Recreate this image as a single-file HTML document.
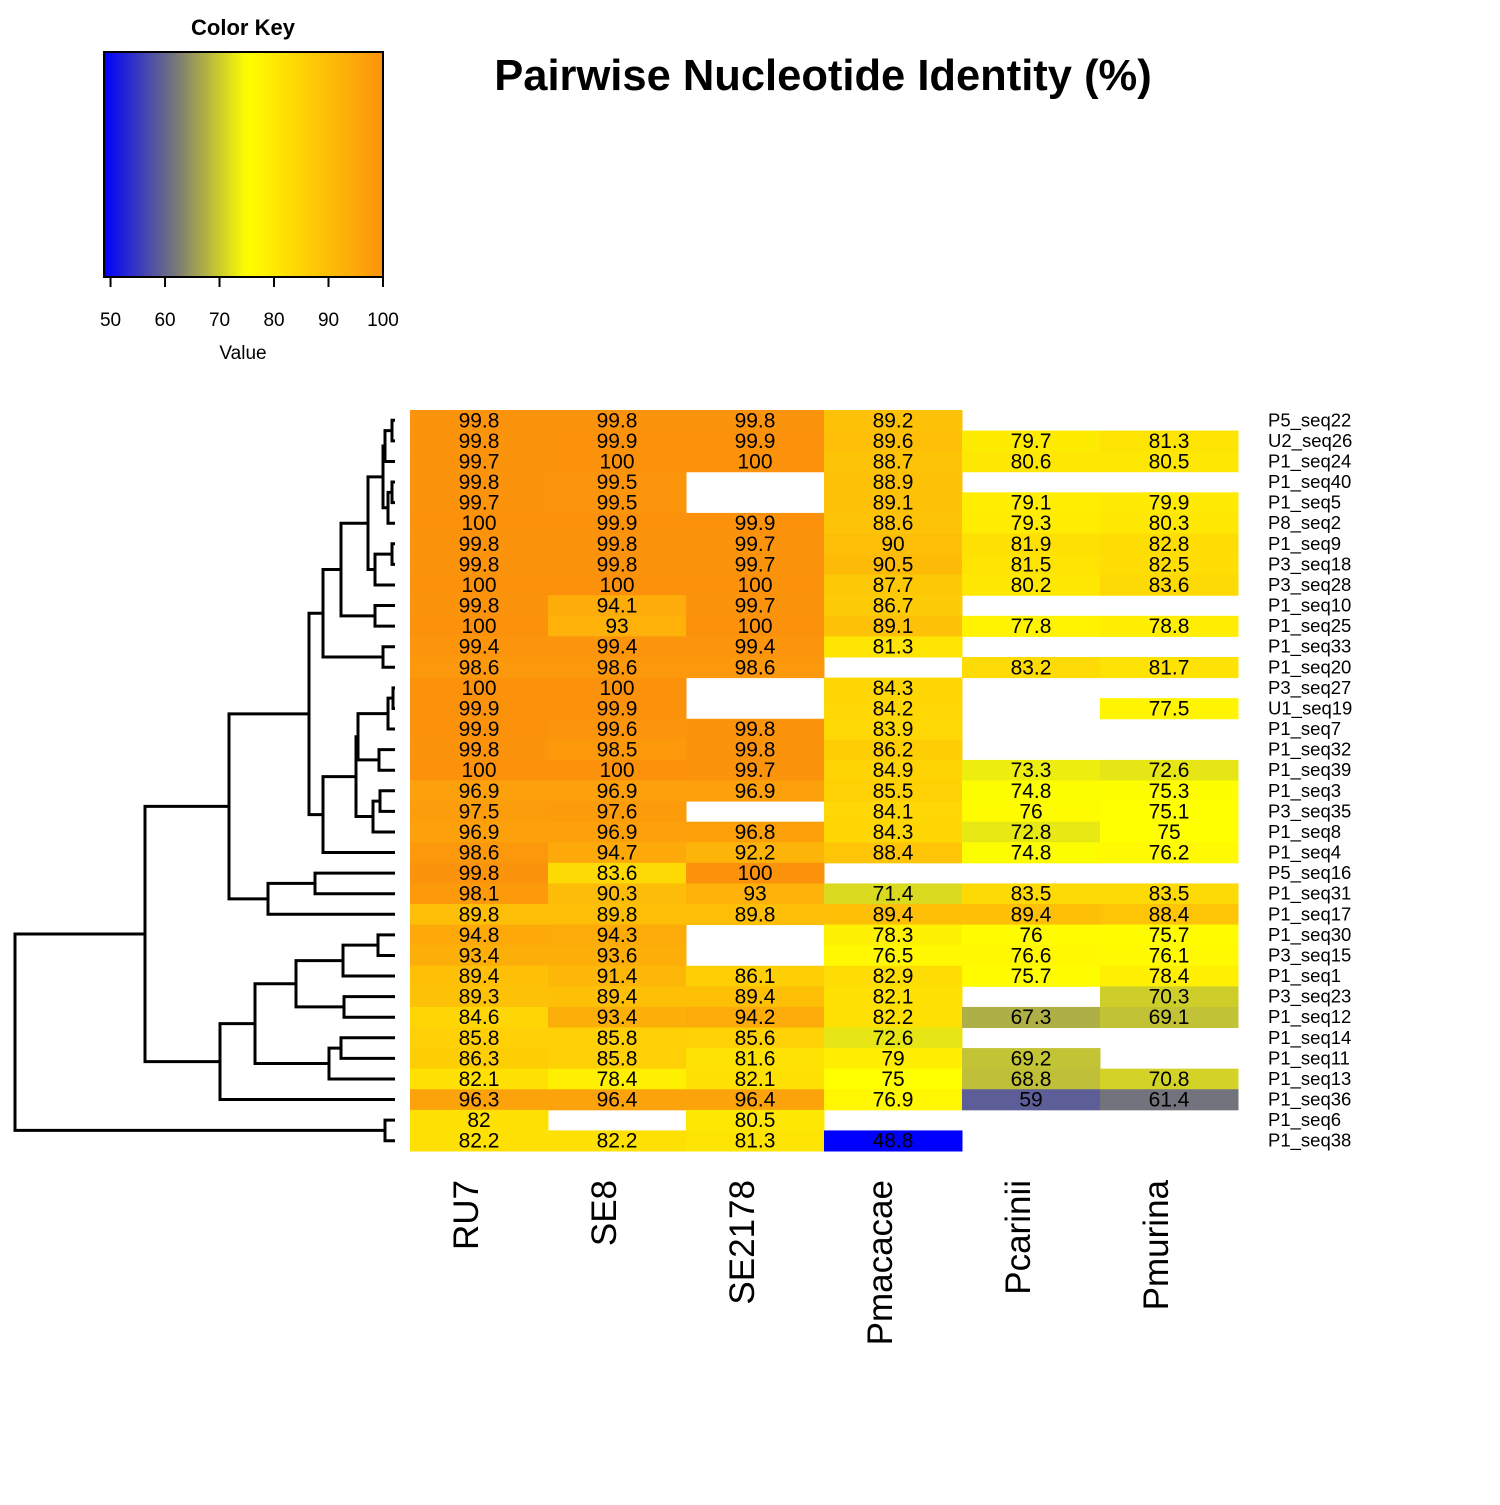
<!DOCTYPE html>
<html><head><meta charset="utf-8"><style>
body{margin:0;background:#fff;}
svg text{font-family:"Liberation Sans",sans-serif;}
</style></head><body>
<svg id="chart" width="1500" height="1500" xmlns="http://www.w3.org/2000/svg"></svg>
<script>
const rowLabels=["P5_seq22","U2_seq26","P1_seq24","P1_seq40","P1_seq5","P8_seq2","P1_seq9","P3_seq18","P3_seq28","P1_seq10","P1_seq25","P1_seq33","P1_seq20","P3_seq27","U1_seq19","P1_seq7","P1_seq32","P1_seq39","P1_seq3","P3_seq35","P1_seq8","P1_seq4","P5_seq16","P1_seq31","P1_seq17","P1_seq30","P3_seq15","P1_seq1","P3_seq23","P1_seq12","P1_seq14","P1_seq11","P1_seq13","P1_seq36","P1_seq6","P1_seq38"];
const colLabels=["RU7","SE8","SE2178","Pmacacae","Pcarinii","Pmurina"];
const colRU7=[99.8,99.8,99.7,99.8,99.7,100,99.8,99.8,100,99.8,100,99.4,98.6,100,99.9,99.9,99.8,100,96.9,97.5,96.9,98.6,99.8,98.1,89.8,94.8,93.4,89.4,89.3,84.6,85.8,86.3,82.1,96.3,82,82.2];
const colSE8=[99.8,99.9,100,99.5,99.5,99.9,99.8,99.8,100,94.1,93,99.4,98.6,100,99.9,99.6,98.5,100,96.9,97.6,96.9,94.7,83.6,90.3,89.8,94.3,93.6,91.4,89.4,93.4,85.8,85.8,78.4,96.4,null,82.2];
const colSE2178=[99.8,99.9,100,null,null,99.9,99.7,99.7,100,99.7,100,99.4,98.6,null,null,99.8,99.8,99.7,96.9,null,96.8,92.2,100,93,89.8,null,null,86.1,89.4,94.2,85.6,81.6,82.1,96.4,80.5,81.3];
const colPmac=[89.2,89.6,88.7,88.9,89.1,88.6,90,90.5,87.7,86.7,89.1,81.3,null,84.3,84.2,83.9,86.2,84.9,85.5,84.1,84.3,88.4,null,71.4,89.4,78.3,76.5,82.9,82.1,82.2,72.6,79,75,76.9,null,48.8];
const colPcar=[null,79.7,80.6,null,79.1,79.3,81.9,81.5,80.2,null,77.8,null,83.2,null,null,null,null,73.3,74.8,76,72.8,74.8,null,83.5,89.4,76,76.6,75.7,null,67.3,null,69.2,68.8,59,null,null];
const colPmur=[null,81.3,80.5,null,79.9,80.3,82.8,82.5,83.6,null,78.8,null,81.7,null,77.5,null,null,72.6,75.3,75.1,75,76.2,null,83.5,88.4,75.7,76.1,78.4,70.3,69.1,null,null,70.8,61.4,null,null];
const columns=[colRU7,colSE8,colSE2178,colPmac,colPcar,colPmur];
const keyTicks=[50,60,70,80,90,100];

const NS="http://www.w3.org/2000/svg";
const svg=document.getElementById('chart');
function mk(tag,attrs,parent){
  const e=document.createElementNS(NS,tag);
  for(const k in attrs){e.setAttribute(k,String(attrs[k]));}
  (parent||svg).appendChild(e);
  return e;
}
const vmin=48.8,vmax=100;
const X0=410,X1=1238,Y0=410,Y1=1151;
const cw=(X1-X0)/colLabels.length, rh=(Y1-Y0)/rowLabels.length;
function xCol(j){return X0+j*cw;}
function yRow(i){return Y0+i*rh;}
const stops=[[48.8,[0,0,255]],[62,[120,120,120]],[75,[255,255,0]],[100,[252,146,12]]];
function color(v){
  for(let k=0;k<stops.length-1;k++){
    const a=stops[k],b=stops[k+1];
    if(v<=b[0]||k===stops.length-2){
      let t=(v-a[0])/(b[0]-a[0]);
      t=Math.max(0,Math.min(1,t));
      const c=[0,1,2].map(i=>Math.round(a[1][i]+(b[1][i]-a[1][i])*t));
      return 'rgb('+c.join(',')+')';
    }
  }
  return '#fff';
}
const cells=mk('g',{});


columns.forEach(function(col,j){
  col.forEach(function(v,i){
    if(v===null)return;
    const r=mk('rect',{x:xCol(j),y:yRow(i),width:cw+0.5,height:rh+0.5,fill:color(v)},cells);
    
    
    const t=mk('text',{x:xCol(j)+cw/2,y:yRow(i)+rh/2+7,'text-anchor':'middle','font-size':21,fill:'#000'},cells);
    t.textContent=String(v);
    
    
  });
});
rowLabels.forEach(function(l,i){
  const t=mk('text',{x:1268,y:yRow(i)+rh/2+6,'font-size':18.5});
  t.textContent=l;
  
  
});
colLabels.forEach(function(l,j){
  const cx=xCol(j)+cw/2-1, cy=1180;
  const t=mk('text',{x:cx,y:cy,'font-size':35,'text-anchor':'end',transform:'rotate(-90 '+cx+' '+cy+')'});
  t.textContent=l;
  
  
});
const title=mk('text',{x:823,y:90,'font-size':43.5,'font-weight':'bold','text-anchor':'middle'});
title.textContent='Pairwise Nucleotide Identity (%)';


const defs=mk('defs',{});
const grad=mk('linearGradient',{id:'kg',x1:0,x2:1,y1:0,y2:0},defs);
for(let k=0;k<=40;k++){
  const v=vmin+(vmax-vmin)*k/40;
  mk('stop',{offset:k/40,'stop-color':color(v)},grad);
}
const KX0=104,KX1=383,KY0=52,KY1=277;
function kx(v){return KX0+(v-vmin)/(vmax-vmin)*(KX1-KX0);}
const key=mk('g',{});


mk('rect',{x:KX0,y:KY0,width:KX1-KX0,height:KY1-KY0,fill:'url(#kg)',stroke:'#000','stroke-width':2},key);
const kt=mk('text',{x:243,y:35,'font-size':22,'font-weight':'bold','text-anchor':'middle'},key);
kt.textContent='Color Key';
mk('line',{x1:kx(50),x2:kx(100),y1:KY1,y2:KY1,stroke:'#000','stroke-width':2},key);
keyTicks.forEach(function(v){
  mk('line',{x1:kx(v),x2:kx(v),y1:KY1,y2:KY1+10,stroke:'#000','stroke-width':2},key);
  const t=mk('text',{x:kx(v),y:326,'font-size':19,'text-anchor':'middle'},key);
  t.textContent=String(v);
  
  
});
const kv=mk('text',{x:243,y:359,'font-size':19,'text-anchor':'middle'},key);
kv.textContent='Value';
const nB=[[0,1,392],2,385];
const nC=[[3,4,392],5,388];
const nD=[nB,nC,383];
const nE=[[6,7,392],8,375];
const nF=[nD,nE,368];
const nF2=[nF,[9,10,375],341];
const nH=[nF2,[11,12,383],323];
const nI1=[[[13,14,393],15,388],[16,17,379],358];
const nI2=[nI1,[[18,19,380],20,373],356];
const nI3=[nI2,21,323];
const nJ=[nH,nI3,309];
const nK=[[22,23,315],24,268];
const nA1=[nJ,nK,229];
const nL=[[[25,26,378],27,343],[28,29,344],296];
const nM=[[30,31,341],32,329];
const nN=[nL,nM,255];
const nA2=[nN,33,220];
const nA=[nA1,nA2,145];
const root=[nA,[34,35,385],15];
const dend=mk('g',{fill:'none',stroke:'#000','stroke-width':3});


const LEAFX=395;
function draw(n){
  if(typeof n==='number')return {y:yRow(n)+rh/2,x:LEAFX};
  const a=draw(n[0]),b=draw(n[1]),h=n[2];
  mk('path',{d:'M'+a.x+','+a.y+'H'+h+'V'+b.y+'H'+b.x},dend);
  return {y:(a.y+b.y)/2,x:h};
}
draw(root);
</script>
</body></html>
